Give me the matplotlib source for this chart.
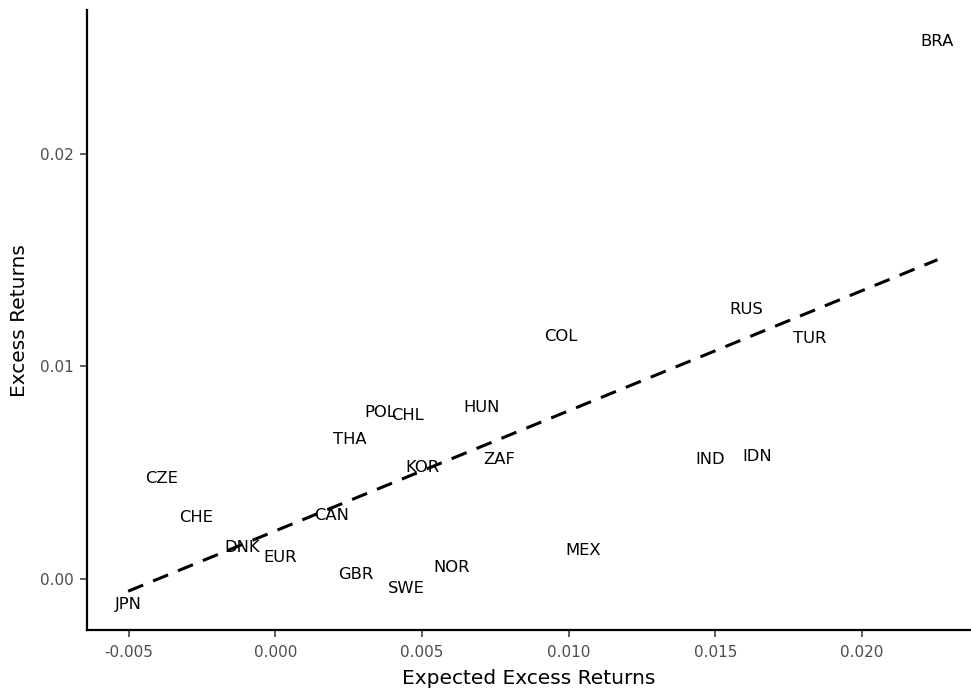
import matplotlib
matplotlib.use("Agg")
import matplotlib.pyplot as plt
import numpy as np

# currency labels with (expected excess return, realised excess return)
countries = ["BRA", "RUS", "TUR", "COL", "HUN", "POL", "CHL", "THA", "KOR", "ZAF",
             "IND", "IDN", "CZE", "CHE", "CAN", "DNK", "EUR", "MEX", "GBR", "NOR",
             "SWE", "JPN"]
expected = [0.02257, 0.01606, 0.01823, 0.00974, 0.00703, 0.00356, 0.00451, 0.00255,
            0.00502, 0.00764, 0.01483, 0.01643, -0.00387, -0.00272, 0.00190, -0.00112,
            0.00017, 0.01049, 0.00275, 0.00601, 0.00445, -0.00502]
realised = [0.02534, 0.01274, 0.01138, 0.01148, 0.00815, 0.00792, 0.00778, 0.00665,
            0.00529, 0.00571, 0.00567, 0.00581, 0.00478, 0.00295, 0.00304, 0.00155,
            0.00108, 0.00141, 0.00028, 0.00061, -0.00037, -0.00112]

# fitted line
intercept = 0.00226
slope = 0.565

fig, ax = plt.subplots(figsize=(9.71, 6.91), dpi=100)
fig.subplots_adjust(left=0.09, right=0.999, top=0.985, bottom=0.088)

xs = np.array([min(expected), max(expected)])
ax.plot(xs, intercept + slope * xs, color="black", linestyle=(0, (5.3, 3.5)), linewidth=2.2, zorder=1)

for c, x, y in zip(countries, expected, realised):
    ax.text(x, y, c, ha="center", va="center_baseline", fontsize=11.8, color="black", zorder=2)

ax.set_xlim(-0.00641, 0.02368)
ax.set_ylim(-0.00241, 0.02674)
ax.set_xticks([-0.005, 0.0, 0.005, 0.010, 0.015, 0.020])
ax.set_xticklabels(["-0.005", "0.000", "0.005", "0.010", "0.015", "0.020"])
ax.set_yticks([0.0, 0.01, 0.02])
ax.set_yticklabels(["0.00", "0.01", "0.02"])
ax.tick_params(labelcolor="#4d4d4d", labelsize=11, length=5, width=1.1, color="#333333")
ax.tick_params(axis="x", pad=6)
ax.tick_params(axis="y", pad=4.5)

for side in ["top", "right"]:
    ax.spines[side].set_visible(False)
for side in ["left", "bottom"]:
    ax.spines[side].set_linewidth(1.6)

ax.set_xlabel("Expected Excess Returns", fontsize=14.5, labelpad=6.5)
ax.set_ylabel("Excess Returns", fontsize=14.5, labelpad=8)

fig.savefig("out.png", dpi=100)
